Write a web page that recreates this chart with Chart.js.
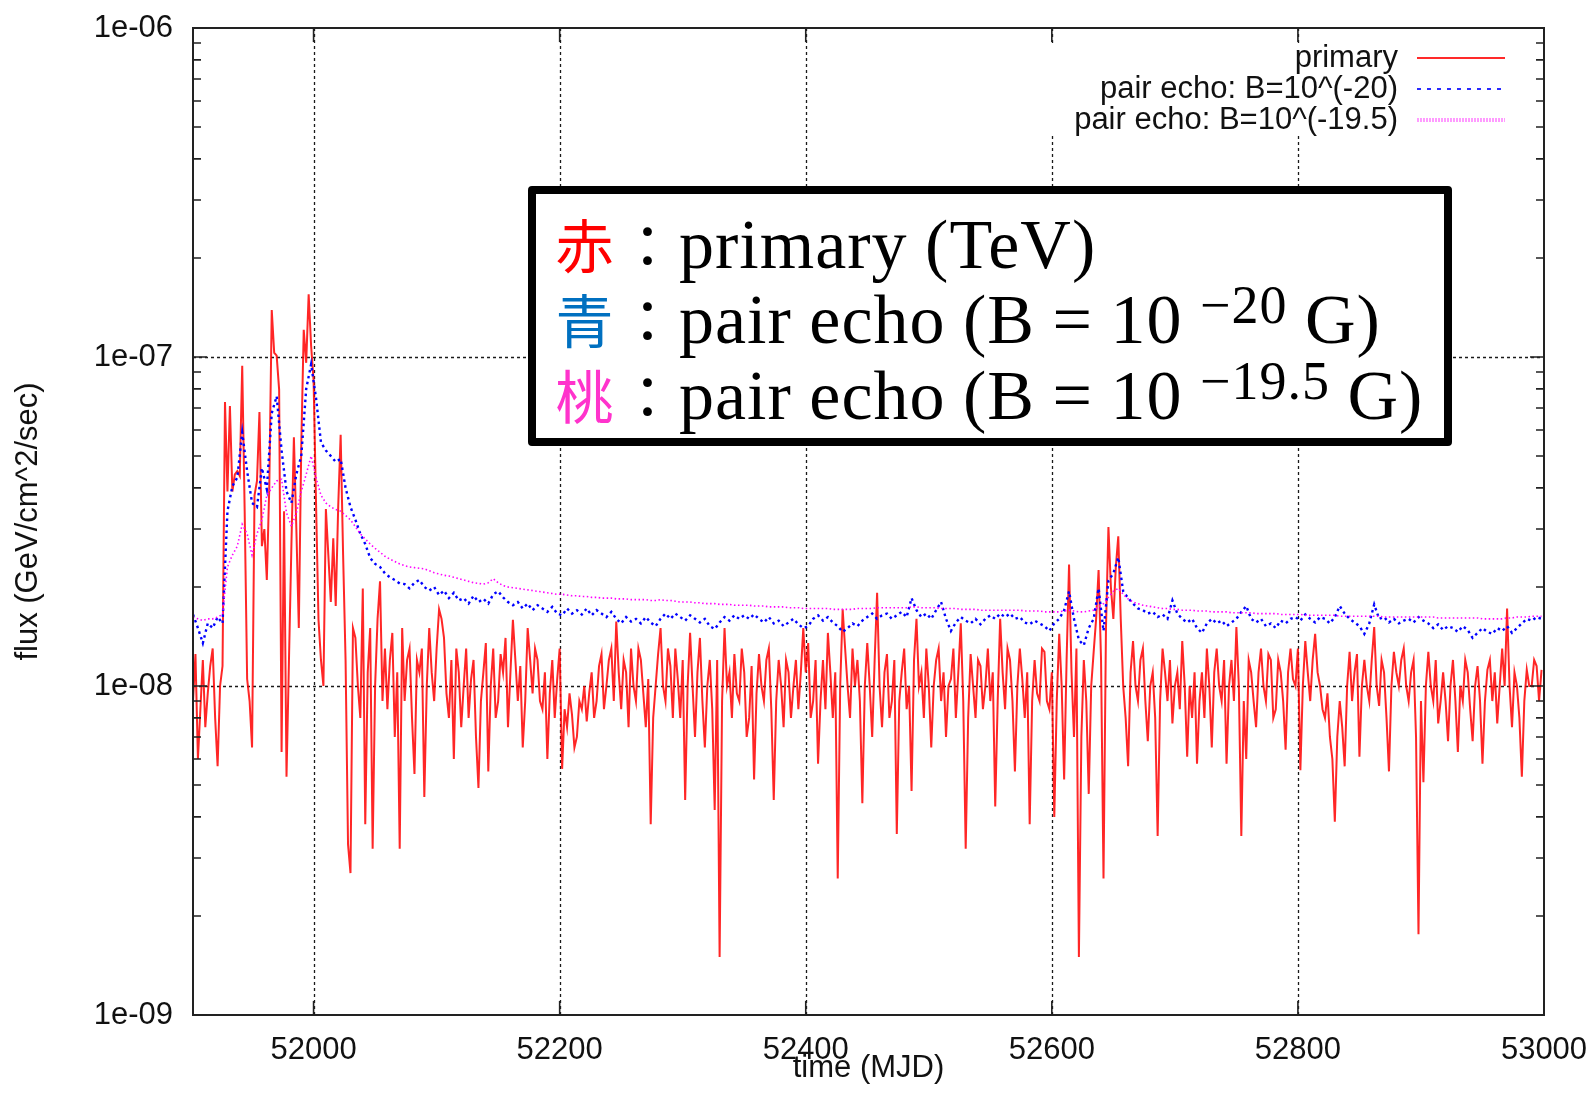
<!DOCTYPE html>
<html lang="ja">
<head>
<meta charset="utf-8">
<title>flux light curve</title>
<script src="https://cdn.jsdelivr.net/npm/chart.js@4.4.1/dist/chart.umd.min.js"></script>
<style>
    html, body { margin: 0; padding: 0; background: #fff; }
    #wrap { position: relative; width: 1595px; height: 1113px; overflow: hidden; }
    #chart { position: absolute; left: 0; top: 0; }
    #note {
        position: absolute; left: 528px; top: 186px; width: 908px; height: 244px;
        border: 8px solid #000; border-radius: 4px; background: #fff;
    }
    .ln {
        position: absolute; left: 553px; white-space: nowrap; color: #000;
        font-family: "Liberation Serif", serif; font-size: 70px; line-height: 76px;
        letter-spacing: 1px; word-spacing: -1px;
    }
    .k {
        display: inline-block; width: 63px; text-align: center; letter-spacing: 0;
        font-family: "Noto Sans CJK JP", sans-serif; font-size: 58px;
    }
    .sup { position: relative; top: -20px; font-size: 54px; }
</style>
</head>
<body>
<div id="wrap">
    <canvas id="chart" width="1595" height="1113"></canvas>
    <div id="note"></div>
    <div class="ln" style="top:205px"><span class="k" style="color:#ff0000">赤</span><span class="k">：</span>primary (TeV)</div>
    <div class="ln" style="top:280px"><span class="k" style="color:#0070c0">青</span><span class="k">：</span>pair echo (B = 10 <span class="sup">−20</span> G)</div>
    <div class="ln" style="top:356px"><span class="k" style="color:#ff33cc">桃</span><span class="k">：</span>pair echo (B = 10 <span class="sup">−19.5</span> G)</div>
</div>
<script>
// fluxes are in units of 1e-8 GeV/cm^2/sec, all series start at MJD 51902
const FLUX_UNIT = 1e-8;
const MJD_START = 51902;
const PRIMARY_STEP = 2;   // days between primary values
const ECHO_STEP = 4;      // days between pair echo values
const X_MIN = 51902;
const X_MAX = 53000;

const xTickValues = [52000, 52200, 52400, 52600, 52800, 53000];
const xTickLabels = ['52000', '52200', '52400', '52600', '52800', '53000'];
const yTickValues = [1e-9, 1e-8, 1e-7, 1e-6];
const yTickLabels = ['1e-09', '1e-08', '1e-07', '1e-06'];
const yMinorFactors = [2, 3, 4, 5, 6, 7, 8, 9];

const seriesLabels = ['primary', 'pair echo: B=10^(-20)', 'pair echo: B=10^(-19.5)'];

const primaryFlux = [
    0.9, 1.25, 0.6, 0.85, 1.2, 0.75, 0.95, 1.15, 1.3, 0.8, 0.57, 1.0, 1.15, 7.3, 3.9, 7.1, 3.9, 4.4, 4.5, 4.35,       // 51902
    9.4, 3.4, 1.05, 0.9, 0.65, 3.8, 4.2, 6.8, 2.66, 3.0, 2.1, 4.05, 13.9, 10.3, 10.1, 7.96, 0.63, 3.4, 0.53, 1.2,    // 51942
    2.7, 5.7, 3.0, 1.5, 5.4, 12.1, 9.6, 15.5, 10.8, 8.5, 3.6, 1.59, 1.2, 1.0, 3.45, 2.5, 1.8, 2.81, 1.75, 3.5,       // 51982
    5.8, 2.5, 1.2, 0.33, 0.27, 1.5, 1.4, 1.0, 0.8, 1.98, 0.38, 1.1, 1.5, 0.32, 1.0, 1.6, 2.08, 0.9, 1.3, 0.85,       // 52022
    1.2, 1.45, 0.7, 1.1, 0.32, 1.5, 0.9, 1.2, 1.3, 0.8, 0.54, 1.2, 1.1, 1.3, 0.46, 1.0, 1.5, 1.1, 0.9, 1.3,          // 52062
    1.71, 1.6, 1.4, 0.95, 0.8, 1.2, 0.6, 1.3, 1.1, 0.75, 1.0, 1.3, 0.8, 1.05, 1.2, 0.7, 0.49, 0.9, 1.1, 1.35,        // 52102
    0.55, 1.0, 1.3, 0.8, 0.9, 1.25, 1.1, 1.4, 0.75, 1.1, 1.59, 1.2, 0.9, 1.15, 0.65, 0.9, 1.5, 1.2, 0.95, 1.3,       // 52142
    1.2, 0.9, 0.85, 1.1, 0.6, 0.95, 1.2, 0.8, 1.05, 1.3, 0.56, 0.85, 0.75, 0.95, 0.82, 0.65, 0.7, 0.9, 0.85, 1.0,    // 52182
    0.78, 0.95, 1.1, 0.8, 0.9, 1.15, 1.25, 0.85, 1.0, 1.2, 1.3, 0.9, 1.57, 1.1, 0.85, 1.2, 1.1, 0.75, 1.3, 1.0,      // 52222
    0.9, 1.3, 1.2, 0.95, 0.75, 1.05, 0.38, 0.8, 1.0, 1.25, 1.5, 1.0, 0.9, 1.3, 1.15, 0.8, 1.3, 1.05, 0.8, 1.2,       // 52262
    0.45, 1.0, 1.45, 1.0, 0.7, 1.1, 1.4, 0.9, 0.65, 1.0, 1.2, 0.85, 0.42, 1.2, 0.15, 0.9, 1.5, 1.0, 1.1, 0.8,        // 52302
    1.25, 0.95, 0.9, 1.3, 1.1, 0.7, 0.8, 1.15, 0.52, 0.95, 1.25, 1.0, 0.9, 1.2, 1.3, 0.85, 0.45, 0.9, 1.2, 1.0,      // 52342
    0.75, 1.2, 1.1, 0.8, 1.0, 1.2, 0.85, 1.1, 1.5, 1.1, 1.35, 0.8, 0.9, 1.2, 0.58, 0.9, 1.2, 0.85, 1.45, 1.1,        // 52382
    0.8, 1.1, 0.26, 1.0, 1.71, 1.3, 1.0, 0.8, 1.3, 1.0, 1.2, 0.9, 0.44, 1.0, 1.35, 1.0, 0.7, 1.2, 1.92, 1.0,         // 52422
    0.75, 1.1, 1.25, 0.8, 0.9, 1.2, 0.355, 0.9, 1.1, 1.3, 0.85, 1.0, 0.48, 1.2, 1.6, 1.0, 1.1, 0.8, 1.3, 1.0,        // 52462
    0.65, 1.0, 1.2, 1.3, 0.9, 1.1, 0.7, 1.0, 1.05, 1.3, 0.8, 1.1, 1.55, 0.9, 0.32, 0.8, 1.25, 1.0, 0.8, 1.2,         // 52502
    1.15, 0.85, 1.0, 1.3, 0.9, 1.1, 0.43, 0.9, 1.6, 1.1, 0.85, 1.3, 1.2, 0.9, 0.55, 1.0, 1.3, 1.05, 0.8, 1.1,        // 52542
    0.38, 0.9, 1.2, 0.95, 0.9, 1.3, 1.27, 0.9, 0.85, 1.1, 0.4, 0.9, 1.44, 1.0, 0.52, 1.2, 2.34, 1.1, 0.7, 1.3,       // 52582
    0.15, 0.7, 1.2, 0.9, 0.47, 1.0, 1.27, 1.6, 2.25, 1.2, 0.26, 1.5, 3.04, 2.0, 1.6, 2.3, 2.85, 1.6, 1.0, 0.8,       // 52622
    0.57, 1.1, 1.37, 1.0, 0.9, 1.2, 1.3, 0.9, 0.68, 1.0, 1.1, 0.8, 0.35, 0.9, 1.3, 1.1, 0.9, 1.2, 0.77, 1.0,         // 52662
    1.1, 0.85, 1.37, 1.0, 0.61, 1.0, 0.8, 1.1, 0.58, 0.9, 1.1, 0.8, 1.3, 1.0, 0.65, 1.1, 1.3, 1.0, 0.9, 1.2,         // 52702
    0.58, 1.0, 1.2, 0.9, 1.51, 1.0, 0.35, 0.9, 0.6, 1.2, 1.1, 0.9, 0.75, 1.1, 1.3, 1.0, 0.9, 1.25, 1.2, 0.8,         // 52742
    0.85, 1.2, 1.1, 0.9, 0.64, 1.1, 1.3, 1.05, 1.0, 1.3, 0.555, 1.0, 1.37, 1.1, 0.9, 1.2, 1.44, 1.1, 1.0, 0.85,      // 52782
    0.8, 0.95, 0.7, 0.6, 0.387, 0.7, 0.9, 0.75, 0.57, 1.0, 1.27, 0.9, 1.1, 1.25, 0.61, 1.0, 1.2, 1.0, 0.9, 1.2,      // 52822
    1.51, 1.0, 0.87, 1.2, 1.1, 0.8, 0.55, 1.0, 1.27, 1.1, 1.0, 1.2, 1.3, 1.0, 0.9, 1.1, 1.2, 0.7, 0.176, 0.9,        // 52862
    0.51, 1.0, 1.27, 1.0, 0.9, 1.2, 0.77, 0.9, 1.1, 0.9, 0.68, 1.0, 1.2, 0.9, 0.63, 1.0, 0.9, 1.2, 1.1, 0.85,        // 52902
    0.68, 1.0, 1.15, 0.9, 0.58, 0.9, 1.12, 1.2, 0.9, 1.1, 0.77, 1.0, 1.3, 1.0, 1.72, 1.0, 0.75, 1.1, 1.0, 0.8,       // 52942
    0.53, 0.9, 1.12, 1.0, 1.0, 1.2, 1.15, 0.9, 1.12                                                                  // 52982
];

const echo20Flux = [
    1.65, 1.5, 1.35, 1.55, 1.5, 1.62, 1.55, 3.4, 4.05, 4.3,     // 51902
    5.9, 4.5, 3.6, 3.5, 4.6, 3.96, 6.75, 7.6, 5.2, 3.9,         // 51942
    3.6, 4.4, 5.0, 8.0, 9.5, 7.5, 5.5, 5.2, 5.0, 4.8,           // 51982
    4.9, 4.0, 3.5, 3.2, 2.9, 2.7, 2.45, 2.35, 2.3, 2.2,         // 52022
    2.14, 2.1, 2.05, 2.04, 1.98, 2.06, 2.1, 2.0, 1.95, 2.0,     // 52062
    1.89, 1.95, 1.85, 1.92, 1.82, 1.85, 1.78, 1.88, 1.8, 1.84,  // 52102
    1.78, 1.9, 1.94, 1.86, 1.8, 1.76, 1.8, 1.72, 1.78, 1.7,     // 52142
    1.76, 1.72, 1.68, 1.74, 1.66, 1.64, 1.72, 1.66, 1.7, 1.65,  // 52182
    1.72, 1.64, 1.7, 1.66, 1.62, 1.68, 1.6, 1.55, 1.62, 1.57,   // 52222
    1.6, 1.55, 1.62, 1.56, 1.52, 1.6, 1.66, 1.6, 1.66, 1.62,    // 52262
    1.58, 1.64, 1.6, 1.56, 1.6, 1.52, 1.49, 1.56, 1.62, 1.58,   // 52302
    1.64, 1.6, 1.64, 1.6, 1.65, 1.6, 1.56, 1.62, 1.55, 1.58,    // 52342
    1.52, 1.56, 1.6, 1.54, 1.5, 1.52, 1.6, 1.64, 1.58, 1.62,    // 52382
    1.56, 1.52, 1.46, 1.5, 1.55, 1.52, 1.58, 1.62, 1.66, 1.6,   // 52422
    1.64, 1.66, 1.6, 1.64, 1.68, 1.62, 1.85, 1.7, 1.62, 1.66,   // 52462
    1.6, 1.7, 1.8, 1.6, 1.47, 1.56, 1.62, 1.58, 1.55, 1.6,      // 52502
    1.54, 1.6, 1.64, 1.6, 1.66, 1.62, 1.66, 1.6, 1.62, 1.56,    // 52542
    1.54, 1.58, 1.55, 1.52, 1.47, 1.55, 1.6, 1.7, 1.94, 1.6,    // 52582
    1.38, 1.33, 1.5, 1.6, 1.98, 1.47, 2.09, 2.2, 2.46, 1.94,    // 52622
    1.85, 1.78, 1.72, 1.7, 1.66, 1.68, 1.62, 1.65, 1.6, 1.82,   // 52662
    1.66, 1.6, 1.56, 1.6, 1.5, 1.45, 1.55, 1.6, 1.55, 1.58,     // 52702
    1.52, 1.56, 1.6, 1.68, 1.75, 1.6, 1.56, 1.6, 1.52, 1.55,    // 52742
    1.5, 1.58, 1.55, 1.6, 1.62, 1.58, 1.65, 1.6, 1.56, 1.62,    // 52782
    1.6, 1.55, 1.62, 1.75, 1.66, 1.6, 1.56, 1.52, 1.44, 1.55,   // 52822
    1.77, 1.6, 1.62, 1.56, 1.6, 1.55, 1.58, 1.6, 1.56, 1.62,    // 52862
    1.58, 1.55, 1.5, 1.54, 1.48, 1.52, 1.5, 1.46, 1.52, 1.48,   // 52902
    1.4, 1.45, 1.5, 1.46, 1.44, 1.5, 1.47, 1.52, 1.45, 1.5,     // 52942
    1.55, 1.6, 1.58, 1.62, 1.6                                  // 52982
];

const echo195Flux = [
    1.62, 1.6, 1.58, 1.6, 1.6, 1.62, 1.65, 2.3, 2.5, 2.66,      // 51902
    3.1, 2.9, 2.5, 2.9, 3.2, 3.8, 4.0, 4.2, 4.25, 3.36,         // 51942
    3.06, 3.36, 3.9, 4.4, 5.0, 4.3, 3.8, 3.6, 3.5, 3.44,        // 51982
    3.4, 3.3, 3.2, 3.05, 2.9, 2.8, 2.7, 2.62, 2.55, 2.48,       // 52022
    2.43, 2.39, 2.35, 2.32, 2.3, 2.29, 2.28, 2.27, 2.24, 2.21,  // 52062
    2.19, 2.17, 2.16, 2.14, 2.12, 2.1, 2.08, 2.06, 2.05, 2.04,  // 52102
    2.06, 2.12, 2.06, 2.02, 2.0, 1.99, 1.98, 1.97, 1.96, 1.95,  // 52142
    1.94, 1.93, 1.92, 1.91, 1.9, 1.9, 1.89, 1.88, 1.88, 1.87,   // 52182
    1.87, 1.86, 1.86, 1.85, 1.85, 1.85, 1.84, 1.84, 1.84, 1.83, // 52222
    1.83, 1.83, 1.83, 1.82, 1.82, 1.83, 1.82, 1.82, 1.81, 1.8,  // 52262
    1.8, 1.8, 1.79, 1.79, 1.78, 1.78, 1.78, 1.77, 1.77, 1.77,   // 52302
    1.76, 1.76, 1.76, 1.76, 1.75, 1.75, 1.75, 1.74, 1.74, 1.74, // 52342
    1.74, 1.73, 1.73, 1.73, 1.72, 1.72, 1.72, 1.72, 1.72, 1.72, // 52382
    1.71, 1.71, 1.71, 1.71, 1.71, 1.72, 1.72, 1.72, 1.72, 1.73, // 52422
    1.73, 1.73, 1.73, 1.73, 1.73, 1.73, 1.74, 1.74, 1.73, 1.73, // 52462
    1.73, 1.73, 1.72, 1.72, 1.72, 1.72, 1.71, 1.71, 1.71, 1.71, // 52502
    1.7, 1.7, 1.7, 1.7, 1.7, 1.7, 1.7, 1.7, 1.7, 1.69,          // 52542
    1.69, 1.69, 1.69, 1.68, 1.68, 1.68, 1.68, 1.69, 1.7, 1.69,  // 52582
    1.68, 1.68, 1.69, 1.7, 1.74, 1.78, 1.86, 1.94, 1.98, 1.9,   // 52622
    1.84, 1.8, 1.78, 1.76, 1.75, 1.74, 1.73, 1.72, 1.72, 1.71,  // 52662
    1.71, 1.7, 1.7, 1.7, 1.69, 1.69, 1.69, 1.68, 1.68, 1.68,    // 52702
    1.68, 1.67, 1.67, 1.67, 1.67, 1.67, 1.66, 1.66, 1.66, 1.66, // 52742
    1.66, 1.65, 1.65, 1.65, 1.65, 1.65, 1.64, 1.64, 1.64, 1.64, // 52782
    1.64, 1.64, 1.64, 1.63, 1.63, 1.63, 1.63, 1.63, 1.63, 1.63, // 52822
    1.63, 1.63, 1.62, 1.62, 1.62, 1.62, 1.62, 1.62, 1.62, 1.62, // 52862
    1.62, 1.62, 1.62, 1.61, 1.61, 1.61, 1.61, 1.61, 1.61, 1.61, // 52902
    1.61, 1.61, 1.6, 1.6, 1.6, 1.6, 1.6, 1.61, 1.61, 1.62,      // 52942
    1.62, 1.62, 1.63, 1.63, 1.63                                // 52982
];

const seriesColors = ['rgba(255,0,0,0.85)', '#0000ff', '#ff00ff'];
const keySamples = [
    {color: '#ff2a2a', width: 2, dash: []},
    {color: '#2a2aff', width: 2, dash: [4, 6]},
    {color: '#ff9cff', width: 4, dash: [2, 1]}
];

const FONT = '"Liberation Sans", Arial, sans-serif';
const TEXT = '#111';

const toPoints = (vals, step) => vals.map((v, i) => ({x: MJD_START + i * step, y: v * FLUX_UNIT}));

const gnuplotLook = {
    id: 'gnuplotLook',
    beforeDatasetsDraw(chart) {
        const {ctx, chartArea: area, scales: {x, y}} = chart;
        ctx.save();
        ctx.strokeStyle = '#1a1a1a';
        ctx.lineWidth = 1.3;
        ctx.setLineDash([3, 3]);
        ctx.beginPath();
        xTickValues.forEach(v => {
            if (v <= X_MIN || v >= X_MAX) return;
            const px = Math.round(x.getPixelForValue(v)) + 0.5;
            ctx.moveTo(px, area.top);
            ctx.lineTo(px, area.bottom);
        });
        yTickValues.forEach(v => {
            const py = Math.round(y.getPixelForValue(v)) + 0.5;
            if (py <= area.top + 1 || py >= area.bottom - 1) return;
            ctx.moveTo(area.left, py);
            ctx.lineTo(area.right, py);
        });
        ctx.stroke();
        // gnuplot's key is opaque, it hides the grid behind it
        ctx.fillStyle = '#fff';
        ctx.fillRect(area.right - 504, area.top + 16, 490, 89);
        ctx.restore();
    },
    afterDatasetsDraw(chart) {
        const {ctx, chartArea: area, scales: {x, y}} = chart;
        ctx.save();
        ctx.setLineDash([]);
        ctx.strokeStyle = '#222';
        ctx.lineWidth = 2;
        ctx.strokeRect(area.left, area.top, area.right - area.left, area.bottom - area.top);

        ctx.lineWidth = 1.6;
        ctx.beginPath();
        xTickValues.forEach(v => {
            const px = x.getPixelForValue(v);
            ctx.moveTo(px, area.bottom);
            ctx.lineTo(px, area.bottom - 14);
            ctx.moveTo(px, area.top);
            ctx.lineTo(px, area.top + 14);
        });
        yTickValues.forEach(v => {
            const py = y.getPixelForValue(v);
            ctx.moveTo(area.left, py);
            ctx.lineTo(area.left + 14, py);
            ctx.moveTo(area.right, py);
            ctx.lineTo(area.right - 14, py);
        });
        yTickValues.slice(0, -1).forEach(decade => {
            yMinorFactors.forEach(m => {
                const py = y.getPixelForValue(decade * m);
                ctx.moveTo(area.left, py);
                ctx.lineTo(area.left + 8, py);
                ctx.moveTo(area.right, py);
                ctx.lineTo(area.right - 8, py);
            });
        });
        ctx.stroke();

        // key: text first, then the sample line
        ctx.font = '31px ' + FONT;
        ctx.textAlign = 'right';
        ctx.textBaseline = 'middle';
        chart.data.datasets.forEach((ds, i) => {
            const rowY = area.top + 30 + i * 31;
            ctx.fillStyle = TEXT;
            ctx.fillText(ds.label, area.right - 146, rowY);
            const s = keySamples[i];
            ctx.strokeStyle = s.color;
            ctx.lineWidth = s.width;
            ctx.setLineDash(s.dash);
            ctx.beginPath();
            ctx.moveTo(area.right - 127, rowY);
            ctx.lineTo(area.right - 39, rowY);
            ctx.stroke();
        });
        ctx.restore();
    }
};

new Chart(document.getElementById('chart'), {
    type: 'line',
    data: {
        datasets: [
            {
                label: seriesLabels[0],
                data: toPoints(primaryFlux, PRIMARY_STEP),
                borderColor: seriesColors[0],
                borderWidth: 2,
                pointRadius: 0,
                tension: 0,
                order: 3
            },
            {
                label: seriesLabels[1],
                data: toPoints(echo20Flux, ECHO_STEP),
                borderColor: seriesColors[1],
                borderWidth: 2.4,
                borderDash: [2.5, 3.5],
                pointRadius: 0,
                tension: 0,
                order: 2
            },
            {
                label: seriesLabels[2],
                data: toPoints(echo195Flux, ECHO_STEP),
                borderColor: seriesColors[2],
                borderWidth: 1.6,
                borderDash: [1.5, 2.5],
                pointRadius: 0,
                tension: 0,
                order: 1
            }
        ]
    },
    options: {
        responsive: false,
        animation: false,
        events: [],
        layout: {padding: {left: 0, right: 51, top: 28, bottom: 0}},
        plugins: {
            legend: {display: false},
            tooltip: {enabled: false}
        },
        scales: {
            x: {
                type: 'linear',
                min: X_MIN,
                max: X_MAX,
                afterBuildTicks: scale => {
                    scale.ticks = xTickValues.map(v => ({value: v}));
                },
                afterFit: scale => {
                    scale.height = 98;
                },
                // tick marks are drawn by the plugin, tickLength only spaces the labels
                grid: {display: false, drawTicks: true, tickLength: 17},
                border: {display: false},
                ticks: {
                    padding: 0,
                    maxRotation: 0,
                    autoSkip: false,
                    color: TEXT,
                    font: {family: FONT, size: 31},
                    callback: (value, index) => xTickLabels[index]
                },
                title: {
                    display: true,
                    text: 'time (MJD)',
                    color: TEXT,
                    font: {family: FONT, size: 31},
                    padding: {top: 0, bottom: 26}
                }
            },
            y: {
                type: 'logarithmic',
                min: 1e-9,
                max: 1e-6,
                afterBuildTicks: scale => {
                    scale.ticks = yTickValues.map(v => ({value: v}));
                },
                afterFit: scale => {
                    scale.width = 193;
                },
                grid: {display: false, drawTicks: true, tickLength: 20},
                border: {display: false},
                ticks: {
                    padding: 0,
                    autoSkip: false,
                    color: TEXT,
                    font: {family: FONT, size: 31},
                    callback: (value, index) => yTickLabels[index]
                },
                title: {
                    display: true,
                    text: 'flux (GeV/cm^2/sec)',
                    color: TEXT,
                    font: {family: FONT, size: 31},
                    padding: {top: 10, bottom: 0}
                }
            }
        }
    },
    plugins: [gnuplotLook]
});
</script>
</body>
</html>
